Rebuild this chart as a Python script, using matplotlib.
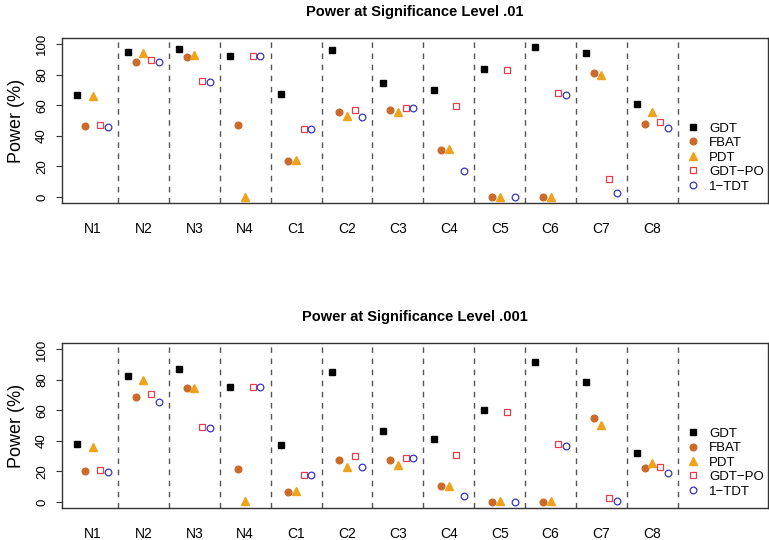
import numpy as np
import matplotlib
matplotlib.use("Agg")
import matplotlib.pyplot as plt

plt.rcParams["font.family"] = ["Liberation Sans", "DejaVu Sans"]

groups = ["N1", "N2", "N3", "N4", "C1", "C2", "C3", "C4", "C5", "C6", "C7", "C8"]
methods = ["GDT", "FBAT", "PDT", "GDT\u2212PO", "1\u2212TDT"]

# power (%) at alpha = .01
gdt_01 = [66.8, 94.8, 96.9, 91.9, 67.2, 96.1, 74.7, 69.7, 83.4, 98.0, 93.9, 60.7]
fbat_01 = [46.5, 88.6, 91.5, 47.2, 23.8, 55.5, 56.6, 30.6, 0.0, 0.0, 81.2, 47.8]
pdt_01 = [66.0, 94.3, 93.0, 0.2, 24.0, 53.0, 55.3, 31.5, 0.2, 0.2, 79.5, 55.5]
gdtpo_01 = [47.0, 89.3, 75.8, 91.9, 44.3, 56.6, 58.1, 59.2, 83.2, 67.9, 11.6, 48.7]
tdt_01 = [45.6, 88.0, 75.5, 91.9, 44.3, 52.6, 58.1, 17.0, 0.0, 67.0, 2.4, 45.4]

# power (%) at alpha = .001
gdt_001 = [38.0, 82.5, 87.1, 75.3, 37.1, 84.9, 46.7, 41.3, 60.3, 91.5, 78.4, 32.3]
fbat_001 = [20.3, 68.8, 74.7, 21.6, 6.8, 27.6, 27.3, 10.3, 0.1, 0.0, 55.2, 22.0]
pdt_001 = [36.0, 80.0, 74.5, 0.4, 7.0, 23.0, 24.5, 10.5, 0.6, 0.5, 50.5, 25.6]
gdtpo_001 = [21.0, 70.7, 48.9, 75.3, 17.9, 29.9, 28.8, 30.8, 59.2, 38.2, 2.6, 23.1]
tdt_001 = [19.4, 65.7, 48.3, 75.3, 17.9, 22.7, 28.8, 4.1, 0.0, 36.9, 0.4, 18.8]

styles = [
    dict(marker="s", color="black", mfc="black", ms=3.8),
    dict(marker="o", color="#CC6A2C", mfc="#CC6A2C", ms=4.8),
    dict(marker="^", color="#F0A21C", mfc="#F0A21C", ms=5.2),
    dict(marker="s", color="#E0404C", mfc="none", ms=4.3, mew=0.9),
    dict(marker="o", color="#3535C8", mfc="none", ms=4.8, mew=0.9),
]
offsets = [-0.3, -0.15, 0.0, 0.15, 0.3]


def draw_panel(ax, series, title):
    x = np.arange(1, len(groups) + 1)
    for vals, off, st, name in zip(series, offsets, styles, methods):
        ax.plot(x + off, vals, linestyle="none", label=name, **st)
    for b in np.arange(1.5, len(groups) + 1):
        ax.axvline(b, color="#555555", lw=1, ls=(0, (4, 4)))
    ax.set_xlim(0.4, 14.27)
    ax.set_ylim(-4, 104)
    ax.set_yticks([0, 20, 40, 60, 80, 100])
    ax.set_xticks(x)
    ax.set_xticklabels(groups, fontsize=10)
    ax.tick_params(axis="x", length=0, pad=14)
    ax.tick_params(axis="y", length=4, pad=6, labelsize=9.5, color="#333333")
    for lab in ax.get_yticklabels():
        lab.set_rotation(90)
        lab.set_va("center")
    ax.set_ylabel("Power (%)", fontsize=13, labelpad=8)
    ax.set_title(title, fontsize=10.5, fontweight="bold", pad=16)
    for sp in ax.spines.values():
        sp.set_color("#333333")
        sp.set_linewidth(1)
    ax.legend(loc="center left", bbox_to_anchor=(0.885, 0.276), frameon=False,
              fontsize=9.5, handletextpad=0.7, labelspacing=0.17,
              handlelength=1.0, borderpad=0, borderaxespad=0)


fig = plt.figure(figsize=(7.69, 5.40), dpi=100)
ax1 = fig.add_axes([0.0806, 0.6241, 0.918, 0.3055])
ax2 = fig.add_axes([0.0806, 0.0593, 0.918, 0.3050])

draw_panel(ax1, [gdt_01, fbat_01, pdt_01, gdtpo_01, tdt_01],
           "Power at Significance Level .01")
draw_panel(ax2, [gdt_001, fbat_001, pdt_001, gdtpo_001, tdt_001],
           "Power at Significance Level .001")

fig.savefig("out.png", dpi=100)
